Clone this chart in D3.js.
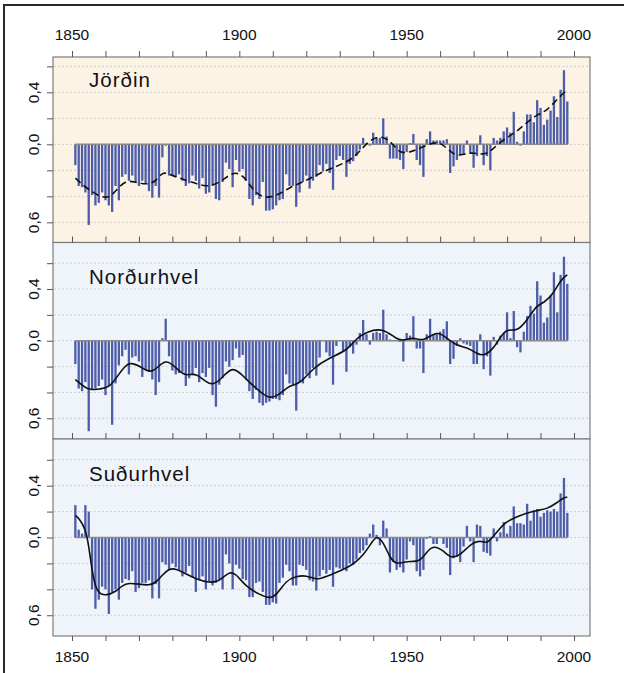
<!DOCTYPE html>
<html>
<head>
<meta charset="utf-8">
<script src="https://cdn.jsdelivr.net/npm/d3@7"></script>
<style>
  body { margin: 0; background: #fff; }
  text { font-family: "Liberation Sans", Arial, Helvetica, sans-serif; }
</style>
</head>
<body>
<div id="chart"></div>
<script>
// Years of the bars (one bar per year)
const years = d3.range(1851, 1999);

// Jörðin (global) annual anomalies
const globalAnom = [
  -0.16, -0.32, -0.33, -0.37, -0.62, -0.39, -0.47, -0.45, -0.37, -0.43,
  -0.47, -0.52, -0.32, -0.43, -0.25, -0.23, -0.28, -0.24, -0.29, -0.32,
  -0.28, -0.30, -0.36, -0.41, -0.32, -0.41, -0.10, -0.01, -0.24, -0.24,
  -0.25, -0.23, -0.28, -0.32, -0.30, -0.24, -0.28, -0.34, -0.26, -0.38,
  -0.37, -0.32, -0.42, -0.43, -0.29, -0.14, -0.19, -0.33, -0.12, -0.21,
  -0.19, -0.28, -0.42, -0.47, -0.39, -0.42, -0.29, -0.51, -0.51, -0.50,
  -0.47, -0.43, -0.42, -0.23, -0.32, -0.32, -0.48, -0.37, -0.29, -0.24,
  -0.34, -0.28, -0.25, -0.16, -0.21, -0.15, -0.22, -0.35, -0.12, -0.09,
  -0.12, -0.25, -0.15, -0.13, -0.09, -0.04, 0.05, 0.01, -0.01, 0.09,
  0.05, 0.05, 0.20, 0.06, -0.11, -0.11, -0.11, -0.12, -0.19, -0.06,
  0.01, 0.08, -0.12, -0.16, -0.25, 0.04, 0.10, 0.03, 0.03, 0.03,
  0.03, 0.04, -0.22, -0.17, -0.12, -0.08, -0.08, 0.03, -0.07, -0.18,
  -0.09, 0.07, -0.16, -0.09, -0.20, 0.05, 0.03, 0.05, 0.10, 0.13,
  0.09, 0.25, 0.02, -0.01, 0.10, 0.23, 0.23, 0.17, 0.34, 0.28,
  0.15, 0.19, 0.26, 0.37, 0.21, 0.42, 0.57, 0.33
];

// Norðurhvel (northern hemisphere)
const northAnom = [
  -0.18, -0.37, -0.39, -0.32, -0.70, -0.38, -0.37, -0.35, -0.30, -0.42,
  -0.35, -0.65, -0.33, -0.19, -0.12, -0.07, -0.26, -0.13, -0.12, -0.16,
  -0.28, -0.23, -0.24, -0.30, -0.42, -0.32, 0.02, 0.17, -0.12, -0.23,
  -0.26, -0.25, -0.24, -0.35, -0.29, -0.26, -0.21, -0.32, -0.25, -0.28,
  -0.21, -0.42, -0.51, -0.34, -0.29, -0.16, -0.20, -0.15, -0.06, -0.13,
  -0.11, -0.30, -0.39, -0.45, -0.38, -0.48, -0.50, -0.48, -0.47, -0.45,
  -0.45, -0.46, -0.42, -0.26, -0.33, -0.34, -0.54, -0.32, -0.33, -0.26,
  -0.29, -0.21, -0.27, -0.13, 0.005, -0.09, -0.12, -0.34, -0.04, 0.005,
  -0.08, -0.24, -0.05, -0.10, -0.03, 0.06, 0.16, 0.05, -0.03, 0.06,
  0.07, 0.06, 0.24, 0.05, 0.01, 0.005, 0.0, -0.01, -0.16, 0.06,
  0.04, 0.19, -0.06, -0.06, -0.25, 0.05, 0.17, 0.05, 0.05, 0.07,
  0.09, 0.15, -0.18, -0.14, -0.04, 0.02, -0.02, -0.03, -0.04, -0.18,
  -0.18, 0.05, -0.22, -0.12, -0.27, 0.03, -0.03, 0.04, 0.06, 0.22,
  0.02, 0.23, -0.05, -0.09, 0.07, 0.19, 0.27, 0.21, 0.46, 0.35,
  0.14, 0.18, 0.35, 0.53, 0.22, 0.51, 0.65, 0.44
];

// Suðurhvel (southern hemisphere)
const southAnom = [
  0.25, 0.06, 0.03, 0.25, 0.20, -0.40, -0.55, -0.48, -0.38, -0.40,
  -0.59, -0.42, -0.40, -0.48, -0.35, -0.32, -0.33, -0.26, -0.42, -0.39,
  -0.35, -0.35, -0.33, -0.47, -0.36, -0.47, -0.19, -0.21, -0.25, -0.20,
  -0.23, -0.25, -0.30, -0.27, -0.22, -0.31, -0.42, -0.33, -0.30, -0.40,
  -0.34, -0.37, -0.35, -0.32, -0.40, -0.13, -0.20, -0.40, -0.21, -0.24,
  -0.32, -0.33, -0.46, -0.46, -0.35, -0.34, -0.42, -0.52, -0.52, -0.50,
  -0.51, -0.35, -0.31, -0.21, -0.26, -0.37, -0.37, -0.21, -0.22, -0.25,
  -0.33, -0.34, -0.41, -0.30, -0.25, -0.28, -0.25, -0.38, -0.23, -0.24,
  -0.25, -0.26, -0.20, -0.21, -0.17, -0.12, -0.10, -0.06, 0.03, 0.10,
  0.02, -0.06, 0.13, 0.07, -0.27, -0.19, -0.25, -0.23, -0.27, -0.17,
  -0.03, -0.06, -0.26, -0.30, -0.25, -0.01, 0.01, -0.05, -0.05, 0.0,
  -0.05, -0.08, -0.29, -0.16, -0.15, -0.19, -0.07, 0.09, -0.03, -0.19,
  0.10, 0.09, -0.11, -0.12, -0.14, 0.07, -0.03, 0.04, 0.12, 0.03,
  0.09, 0.24, 0.11, 0.11, 0.10, 0.26, 0.13, 0.21, 0.22, 0.16,
  0.19, 0.21, 0.20, 0.22, 0.20, 0.34, 0.46, 0.19
];

// smoothed curves
const globalSmoothYears = [1851, 1854, 1858, 1861, 1863, 1866, 1869, 1872, 1875, 1877, 1879, 1882, 1886, 1890, 1894, 1898, 1901, 1904, 1907, 1911, 1915, 1920, 1924, 1930, 1934, 1937, 1940, 1943, 1946, 1948, 1951, 1953, 1956, 1959, 1961, 1963, 1965, 1968, 1970, 1973, 1975, 1977, 1980, 1983, 1986, 1989, 1992, 1995, 1998];
const globalSmooth = [-0.26, -0.33, -0.40, -0.415, -0.36, -0.275, -0.29, -0.31, -0.29, -0.21, -0.23, -0.26, -0.29, -0.33, -0.30, -0.21, -0.23, -0.35, -0.415, -0.40, -0.33, -0.28, -0.22, -0.16, -0.11, -0.02, 0.05, 0.065, 0.0, -0.07, -0.06, -0.04, -0.005, 0.02, -0.005, -0.055, -0.09, -0.07, -0.065, -0.08, -0.055, -0.005, 0.055, 0.10, 0.17, 0.23, 0.26, 0.35, 0.42];

const northSmoothYears = [1851, 1855, 1858, 1861, 1864, 1867, 1871, 1874, 1878, 1881, 1884, 1887, 1891, 1894, 1898, 1902, 1906, 1909, 1912, 1915, 1918, 1922, 1927, 1932, 1935, 1938, 1943, 1947, 1949, 1952, 1955, 1959, 1962, 1965, 1968, 1971, 1973, 1976, 1978, 1980, 1983, 1986, 1989, 1991, 1994, 1996, 1998];
const northSmooth = [-0.30, -0.39, -0.37, -0.37, -0.26, -0.15, -0.21, -0.26, -0.13, -0.21, -0.28, -0.24, -0.35, -0.32, -0.18, -0.30, -0.39, -0.45, -0.42, -0.34, -0.34, -0.21, -0.13, -0.08, 0.02, 0.07, 0.10, 0.01, 0.0, 0.03, -0.01, 0.08, 0.02, -0.04, -0.05, -0.10, -0.12, -0.06, 0.03, 0.095, 0.07, 0.16, 0.28, 0.29, 0.37, 0.47, 0.51];

const southSmoothYears = [1851, 1852, 1854, 1855, 1856, 1857, 1858, 1860, 1863, 1865, 1867, 1870, 1873, 1875, 1877, 1879, 1881, 1884, 1887, 1891, 1894, 1897, 1899, 1902, 1906, 1909, 1911, 1914, 1917, 1920, 1923, 1926, 1930, 1934, 1937, 1940, 1941, 1943, 1945, 1947, 1950, 1954, 1956, 1958, 1961, 1963, 1966, 1969, 1972, 1974, 1976, 1979, 1982, 1986, 1989, 1992, 1995, 1997, 1998];
const southSmooth = [0.17, 0.15, 0.07, -0.06, -0.26, -0.38, -0.43, -0.45, -0.42, -0.37, -0.35, -0.36, -0.37, -0.35, -0.29, -0.24, -0.24, -0.28, -0.32, -0.35, -0.34, -0.26, -0.28, -0.38, -0.44, -0.47, -0.45, -0.33, -0.30, -0.29, -0.33, -0.30, -0.26, -0.21, -0.14, -0.02, 0.01, -0.03, -0.16, -0.21, -0.18, -0.19, -0.11, -0.06, -0.10, -0.16, -0.14, -0.05, -0.02, -0.05, 0.01, 0.11, 0.15, 0.19, 0.21, 0.22, 0.27, 0.31, 0.31];

const panelNames = ["Jörðin", "Norðurhvel", "Suðurhvel"];
const xTickYears = d3.range(1850, 2001, 10);
const xLabelYears = [1850, 1900, 1950, 2000];
const yTicks = [-0.6, -0.4, -0.2, 0, 0.2, 0.4, 0.6];
const yLabels = { "0.4": "0,4", "0": "0,0", "-0.6": "0,6" };

const width = 624, height = 673;
const plotLeft = 53, plotRight = 590;

const svg = d3.select("#chart").append("svg")
  .attr("width", width)
  .attr("height", height);

// outer frame (only top and left edges are inside the picture)
svg.append("path")
  .attr("d", `M4,${height} V5 H${width}`)
  .attr("fill", "none")
  .attr("stroke", "#2a2a2a")
  .attr("stroke-width", 2);

const x = d3.scaleLinear().domain([1850, 2000]).range([72, 574]);

const panels = [
  { name: panelNames[0], values: globalAnom, sy: globalSmoothYears, sv: globalSmooth,
    top: 57, bottom: 242.5, domain: [-0.755, 0.672], bg: "#fcf3e5", dashed: true },
  { name: panelNames[1], values: northAnom, sy: northSmoothYears, sv: northSmooth,
    top: 242.5, bottom: 439, domain: [-0.76, 0.76], bg: "#eff4fa", dashed: false },
  { name: panelNames[2], values: southAnom, sy: southSmoothYears, sv: southSmooth,
    top: 439, bottom: 636, domain: [-0.76, 0.76], bg: "#eff4fa", dashed: false }
];

panels.forEach((p, k) => {
  const y = d3.scaleLinear().domain(p.domain).range([p.bottom, p.top]);
  const g = svg.append("g");

  g.append("rect")
    .attr("x", plotLeft).attr("y", p.top)
    .attr("width", plotRight - plotLeft).attr("height", p.bottom - p.top)
    .attr("fill", p.bg);

  // dotted grid lines
  g.selectAll(".grid")
    .data(yTicks)
    .join("line")
    .attr("x1", plotLeft + 1).attr("x2", plotRight - 1)
    .attr("y1", d => y(d)).attr("y2", d => y(d))
    .attr("stroke", "#cfcfcf")
    .attr("stroke-width", 1)
    .attr("stroke-dasharray", "2,2");

  // bars
  g.selectAll(".bar")
    .data(years.map((yr, i) => ({ yr, v: p.values[i] })))
    .join("rect")
    .attr("x", d => x(d.yr) - 1.15)
    .attr("width", 2.3)
    .attr("y", d => Math.min(y(d.v), y(0)))
    .attr("height", d => Math.abs(y(d.v) - y(0)))
    .attr("fill", "#4d5da9");

  // zero line
  g.append("line")
    .attr("x1", x(years[0])).attr("x2", x(years[years.length - 1]))
    .attr("y1", y(0)).attr("y2", y(0))
    .attr("stroke", "#8a8a8a")
    .attr("stroke-width", 1.5);

  // smoothed curve
  const line = d3.line()
    .x((d, i) => x(p.sy[i]))
    .y(d => y(d))
    .curve(d3.curveBasis);

  g.append("path")
    .datum(p.sv)
    .attr("d", line)
    .attr("fill", "none")
    .attr("stroke", "#111")
    .attr("stroke-width", 1.6)
    .attr("stroke-dasharray", p.dashed ? "7,4" : null);

  // panel border
  g.append("rect")
    .attr("x", plotLeft).attr("y", p.top)
    .attr("width", plotRight - plotLeft).attr("height", p.bottom - p.top)
    .attr("fill", "none")
    .attr("stroke", "#7d7d7d")
    .attr("stroke-width", 1.2);

  // y axis
  const yAxis = d3.axisLeft(y)
    .tickValues(yTicks)
    .tickSize(6)
    .tickFormat("");
  const ya = g.append("g")
    .attr("transform", `translate(${plotLeft},0)`)
    .call(yAxis);
  ya.select(".domain").remove();
  ya.selectAll("line").attr("stroke", "#555");

  yTicks.filter(t => yLabels[String(t)]).forEach(t => {
    g.append("text")
      .attr("transform", `translate(38.5,${y(t)}) rotate(-90)`)
      .attr("text-anchor", "middle")
      .attr("font-size", "15.5px")
      .attr("fill", "#111")
      .text(yLabels[String(t)]);
  });

  // x ticks top and bottom of each panel
  const topAxis = d3.axisTop(x).tickValues(xTickYears).tickSize(6).tickFormat("");
  const ta = g.append("g").attr("transform", `translate(0,${p.top})`).call(topAxis);
  ta.select(".domain").remove();
  ta.selectAll("line").attr("stroke", "#555");

  const botAxis = d3.axisBottom(x).tickValues(xTickYears).tickSize(5).tickFormat("");
  const ba = g.append("g").attr("transform", `translate(0,${p.bottom})`).call(botAxis);
  ba.select(".domain").remove();
  ba.selectAll("line").attr("stroke", "#555");

  // panel title
  g.append("text")
    .attr("x", 89)
    .attr("y", p.top + (k === 0 ? 29.5 : 41.5))
    .attr("font-size", "20.5px")
    .attr("letter-spacing", "1px")
    .attr("fill", "#111")
    .text(p.name);
});

// year labels top and bottom
svg.selectAll(".toplab")
  .data(xLabelYears)
  .join("text")
  .attr("x", d => x(d))
  .attr("y", 40)
  .attr("text-anchor", "middle")
  .attr("font-size", "15.5px")
  .attr("fill", "#111")
  .text(d => d);

svg.selectAll(".botlab")
  .data(xLabelYears)
  .join("text")
  .attr("x", d => x(d))
  .attr("y", 662)
  .attr("text-anchor", "middle")
  .attr("font-size", "15.5px")
  .attr("fill", "#111")
  .text(d => d);
</script>
</body>
</html>
